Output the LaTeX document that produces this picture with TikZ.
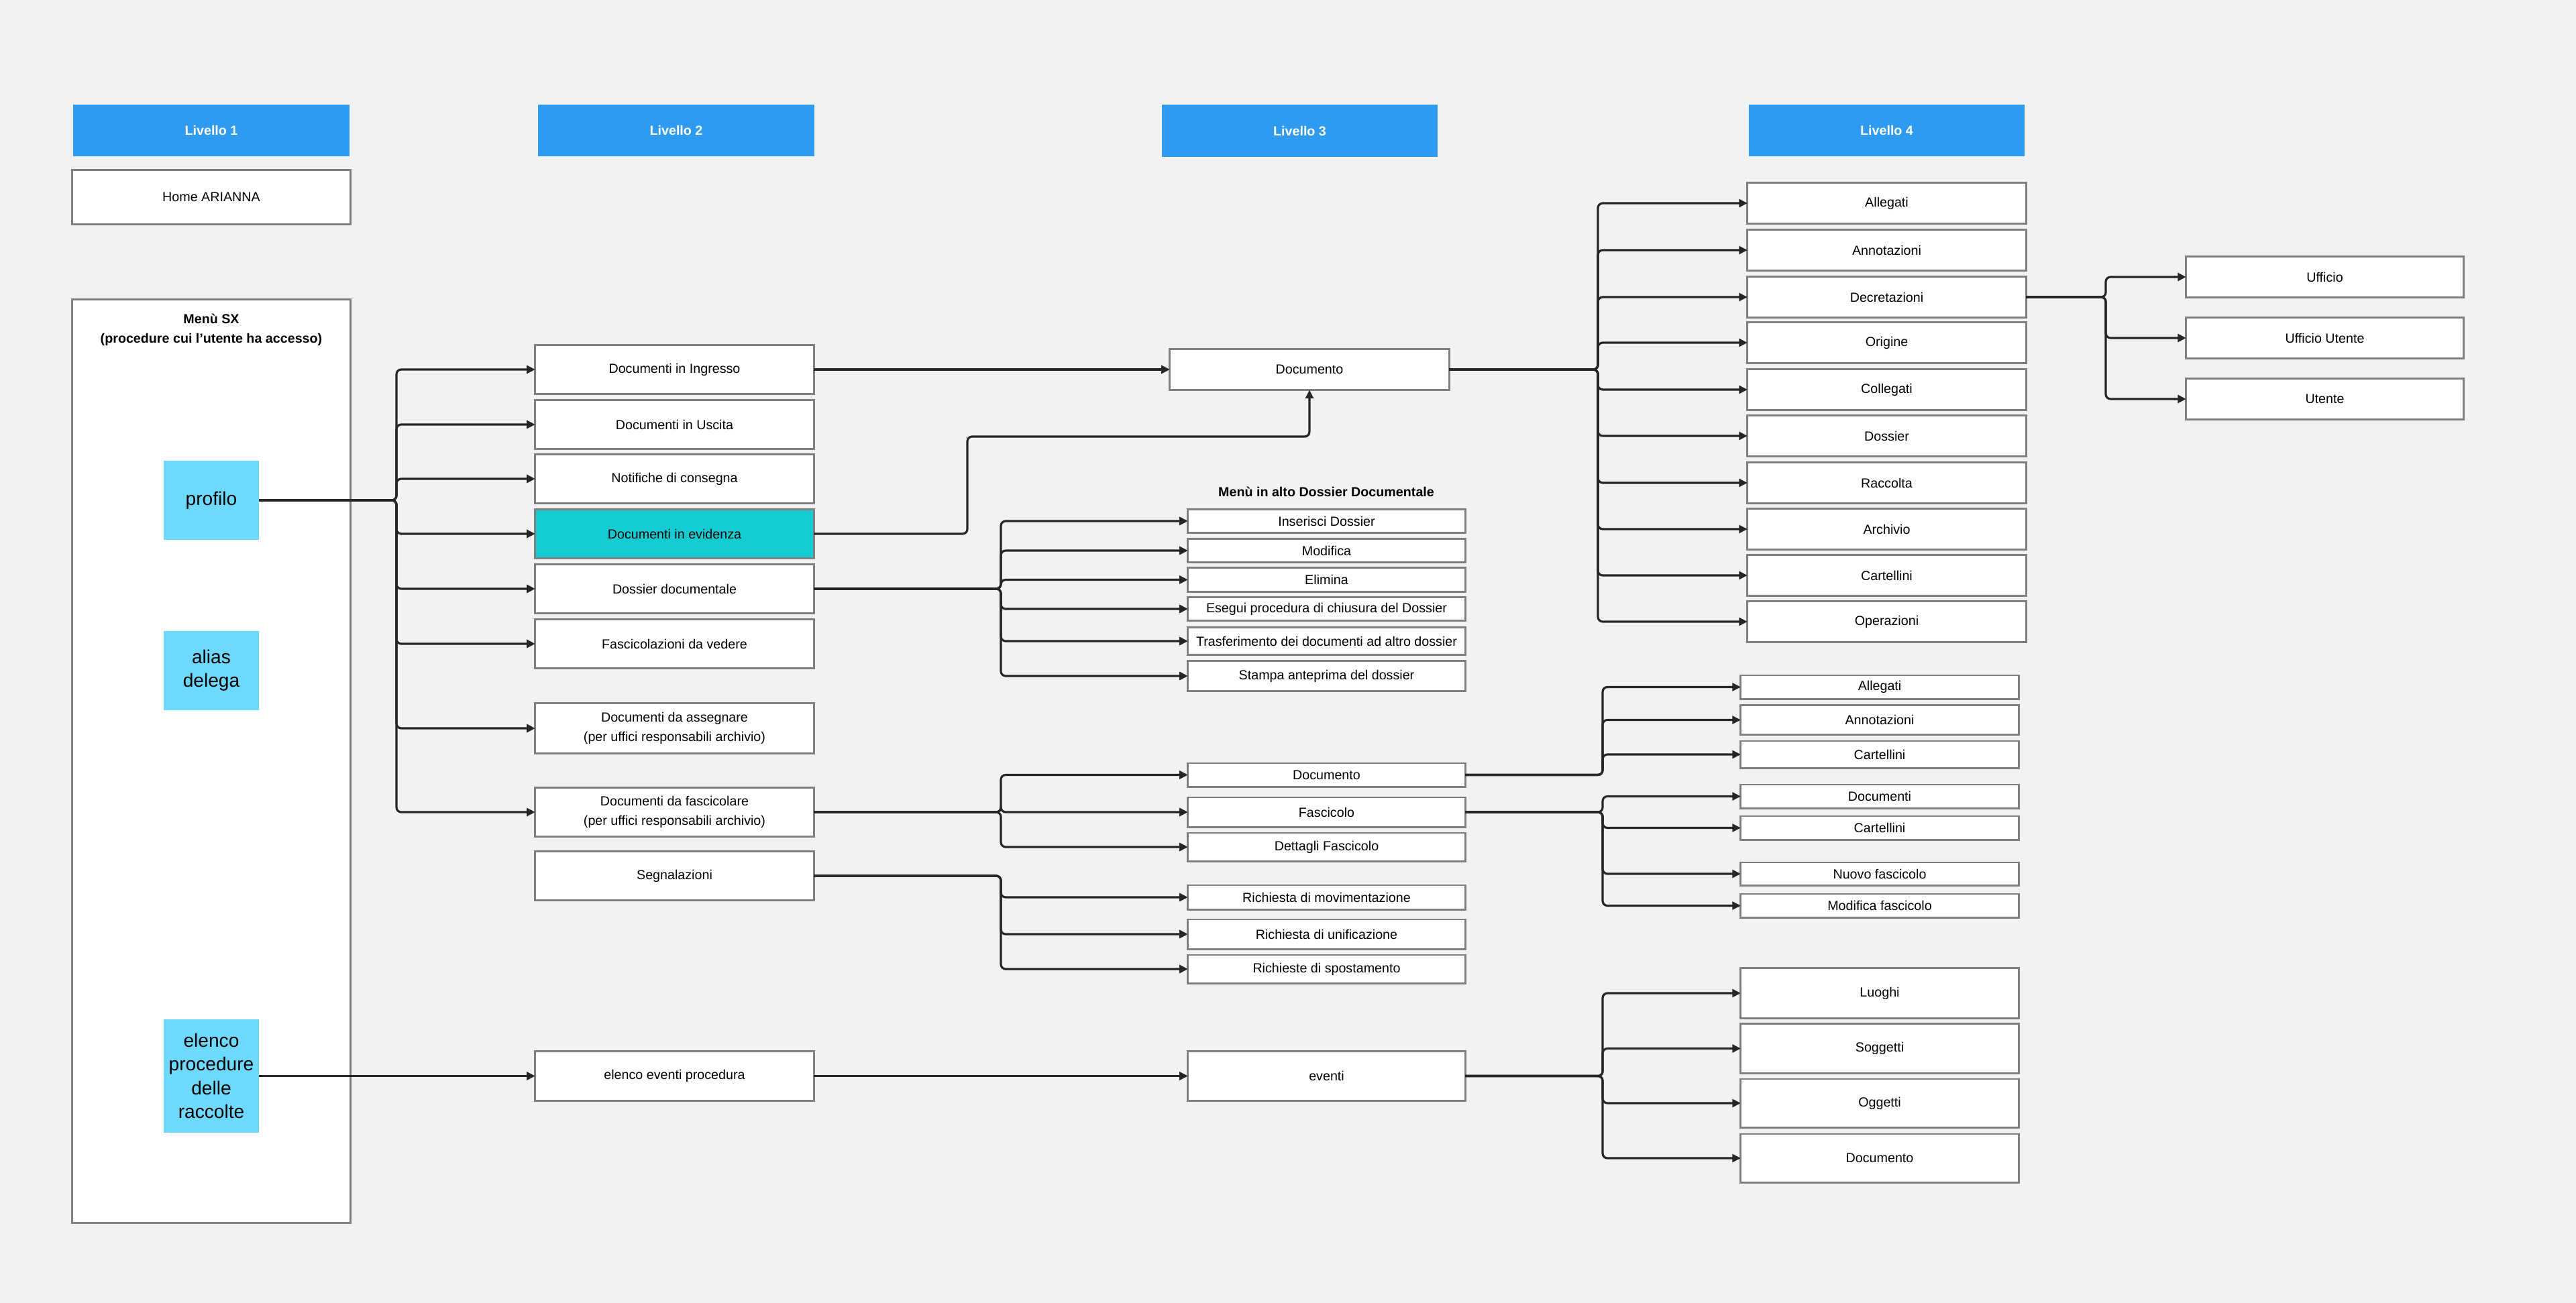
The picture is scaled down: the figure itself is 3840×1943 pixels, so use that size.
\documentclass[tikz,border=0pt]{standalone}
\usepackage{fontspec}
\setmainfont{Liberation Sans}
\usetikzlibrary{arrows.meta}
\definecolor{bgc}{HTML}{F2F2F2}
\definecolor{hdrblue}{HTML}{2E9BF0}
\definecolor{cyanbox}{HTML}{6DD9FC}
\definecolor{tealc}{HTML}{12CBD3}
\definecolor{boxgray}{HTML}{7F7F7F}
\definecolor{linec}{HTML}{262626}
\tikzset{
  hdr/.style={fill=hdrblue, text=white, font=\fontsize{5.6}{7}\selectfont\bfseries, minimum width=4.11cm, minimum height=0.77cm, inner sep=0pt, outer sep=0pt},
  bx/.style={draw=boxgray, line width=0.85pt, fill=white, font=\fontsize{5.6}{8.2}\selectfont, inner sep=0pt, outer sep=0pt, align=center},
  cy/.style={fill=cyanbox, font=\fontsize{8}{10}\selectfont, align=center, minimum width=1.42cm, inner sep=0pt, outer sep=0pt},
  l2/.style={bx, minimum width=4.15cm, minimum height=0.72cm},
  l3/.style={bx, minimum width=4.13cm},
  l4/.style={bx, minimum width=4.15cm, minimum height=0.6cm},
  l4b/.style={bx, minimum width=4.14cm},
  l5/.style={bx, minimum width=4.13cm, minimum height=0.6cm},
  conn/.style={draw=linec, line width=0.9pt, rounded corners=2pt},
  arr/.style={conn, -{Triangle[length=3.6pt,width=3.4pt]}},
  lbl/.style={font=\fontsize{5.6}{8.4}\selectfont\bfseries, align=center, inner sep=0pt}
}
\begin{document}
\begin{tikzpicture}[x=0.01cm,y=-0.01cm]
\useasboundingbox (0,0) rectangle (3840,1943);
\fill[bgc] (0,0) rectangle (3840,1943);

% headers
\node[hdr] (h1) at (315,194.5) {Livello 1};
\node[hdr] (h2) at (1008,194.5) {Livello 2};
\node[hdr] (h3) at (1937.5,195) {Livello 3};
\node[hdr] (h4) at (2812.5,194.5) {Livello 4};

% level 1
\node[bx, minimum width=4.14cm, minimum height=0.8cm] (home) at (315,294) {Home ARIANNA};
\node[bx, minimum width=4.14cm, minimum height=13.76cm] (menu) at (315,1135) {};
\node[lbl] (menuT) at (315,492) {Menù SX\\(procedure cui l'utente ha accesso)};
\node[cy, minimum height=1.18cm] (profilo) at (315,746) {profilo};
\node[cy, minimum height=1.18cm] (alias) at (315,1000) {alias\\delega};
\node[cy, minimum height=1.68cm] (elproc) at (315,1604.5) {elenco\\procedure\\delle\\raccolte};

% level 2
\node[l2] (ing) at (1005.5,551) {Documenti in Ingresso};
\node[l2] (usc) at (1005.5,633) {Documenti in Uscita};
\node[l2] (nots) at (1005.5,714) {Notifiche di consegna};
\node[l2, fill=tealc] (evid) at (1005.5,796) {Documenti in evidenza};
\node[l2] (dos) at (1005.5,878) {Dossier documentale};
\node[l2] (fasv) at (1005.5,960) {Fascicolazioni da vedere};
\node[l2, minimum height=0.74cm] (ass) at (1005.5,1086) {Documenti da assegnare\\(per uffici responsabili archivio)};
\node[l2, minimum height=0.73cm] (fasc) at (1005.5,1211) {Documenti da fascicolare\\(per uffici responsabili archivio)};
\node[l2, minimum height=0.73cm] (segn) at (1005.5,1306) {Segnalazioni};
\node[l2, minimum height=0.73cm] (elev) at (1005.5,1604.5) {elenco eventi procedura};

% level 3
\node[bx, minimum width=4.16cm, minimum height=0.61cm] (doc3) at (1952,551) {Documento};
\node[lbl] (mdd) at (1977,733) {Menù in alto Dossier Documentale};
\node[l3, minimum height=0.34cm] (ins) at (1977.5,777) {Inserisci Dossier};
\node[l3, minimum height=0.34cm] (mdf) at (1977.5,821) {Modifica};
\node[l3, minimum height=0.35cm] (eli) at (1977.5,864.5) {Elimina};
\node[l3, minimum height=0.34cm] (ese) at (1977.5,908) {Esegui procedura di chiusura del Dossier};
\node[l3, minimum height=0.40cm] (tra) at (1977.5,956) {Trasferimento dei documenti ad altro dossier};
\node[l3, minimum height=0.44cm] (sta) at (1977.5,1008) {Stampa anteprima del dossier};
\node[l3, minimum height=0.35cm] (docf) at (1977.5,1155.5) {Documento};
\node[l3, minimum height=0.44cm] (fas) at (1977.5,1211) {Fascicolo};
\node[l3, minimum height=0.42cm] (det) at (1977.5,1263) {Dettagli Fascicolo};
\node[l3, minimum height=0.36cm] (rmov) at (1977.5,1338) {Richiesta di movimentazione};
\node[l3, minimum height=0.44cm] (runi) at (1977.5,1393) {Richiesta di unificazione};
\node[l3, minimum height=0.42cm] (rspo) at (1977.5,1445) {Richieste di spostamento};
\node[l3, minimum height=0.73cm] (ev) at (1977.5,1604.5) {eventi};

% level 4 (Documento)
\node[l4] (all) at (2812.5,303) {Allegati};
\node[l4] (ann) at (2812.5,373) {Annotazioni};
\node[l4] (dec) at (2812.5,443) {Decretazioni};
\node[l4] (ori) at (2812.5,511) {Origine};
\node[l4] (col) at (2812.5,581) {Collegati};
\node[l4] (dsr) at (2812.5,650) {Dossier};
\node[l4] (rac) at (2812.5,720) {Raccolta};
\node[l4] (arc) at (2812.5,789) {Archivio};
\node[l4] (car) at (2812.5,858) {Cartellini};
\node[l4] (ope) at (2812.5,927) {Operazioni};

% level 5 (Decretazioni)
\node[l5] (uff) at (3465.5,413) {Ufficio};
\node[l5] (uffu) at (3465.5,504) {Ufficio Utente};
\node[l5] (ute) at (3465.5,595) {Utente};

% level 4 (fascicolo / eventi)
\node[l4b, minimum height=0.35cm] (all2) at (2802,1024.5) {Allegati};
\node[l4b, minimum height=0.43cm] (ann2) at (2802,1073.5) {Annotazioni};
\node[l4b, minimum height=0.40cm] (car2) at (2802,1125) {Cartellini};
\node[l4b, minimum height=0.35cm] (docs) at (2802,1187.5) {Documenti};
\node[l4b, minimum height=0.35cm] (car3) at (2802,1234.5) {Cartellini};
\node[l4b, minimum height=0.34cm] (nuo) at (2802,1303) {Nuovo fascicolo};
\node[l4b, minimum height=0.35cm] (modf) at (2802,1350.5) {Modifica fascicolo};
\node[l4b, minimum height=0.74cm] (luo) at (2802,1481) {Luoghi};
\node[l4b, minimum height=0.73cm] (sog) at (2802,1563.5) {Soggetti};
\node[l4b, minimum height=0.72cm] (ogg) at (2802,1645) {Oggetti};
\node[l4b, minimum height=0.72cm] (doc4) at (2802,1727) {Documento};

% bus coordinates
\coordinate (b1) at (591,746);
\coordinate (k1) at (1442,651);
\coordinate (b3) at (1492,878);
\coordinate (b4) at (1492,1211);
\coordinate (b5) at (1492,1306);
\coordinate (b6) at (2382,551);
\coordinate (b7) at (3139,443);
\coordinate (b8) at (2389,1155.5);
\coordinate (b9) at (2389,1211);
\coordinate (b10) at (2389,1604.5);

% connectors
\foreach \t in {ing,usc,nots,evid,dos,fasv,ass,fasc}
  \draw[arr] (profilo.east) -- (b1) |- (\t.west);
\draw[arr] (elproc.east) -- (elev.west);
\draw[arr] (ing.east) -- (doc3.west);
\draw[arr] (evid.east) -| (k1) -| (doc3.south);
\foreach \t in {ins,mdf,eli,ese,tra,sta}
  \draw[arr] (dos.east) -- (b3) |- (\t.west);
\foreach \t in {docf,fas,det}
  \draw[arr] (fasc.east) -- (b4) |- (\t.west);
\foreach \t in {rmov,runi,rspo}
  \draw[arr] (segn.east) -- (b5) |- (\t.west);
\draw[arr] (elev.east) -- (ev.west);
\foreach \t in {all,ann,dec,ori,col,dsr,rac,arc,car,ope}
  \draw[arr] (doc3.east) -- (b6) |- (\t.west);
\foreach \t in {uff,uffu,ute}
  \draw[arr] (dec.east) -- (b7) |- (\t.west);
\foreach \t in {all2,ann2,car2}
  \draw[arr] (docf.east) -- (b8) |- (\t.west);
\foreach \t in {docs,car3,nuo,modf}
  \draw[arr] (fas.east) -- (b9) |- (\t.west);
\foreach \t in {luo,sog,ogg,doc4}
  \draw[arr] (ev.east) -- (b10) |- (\t.west);
\end{tikzpicture}
\end{document}
